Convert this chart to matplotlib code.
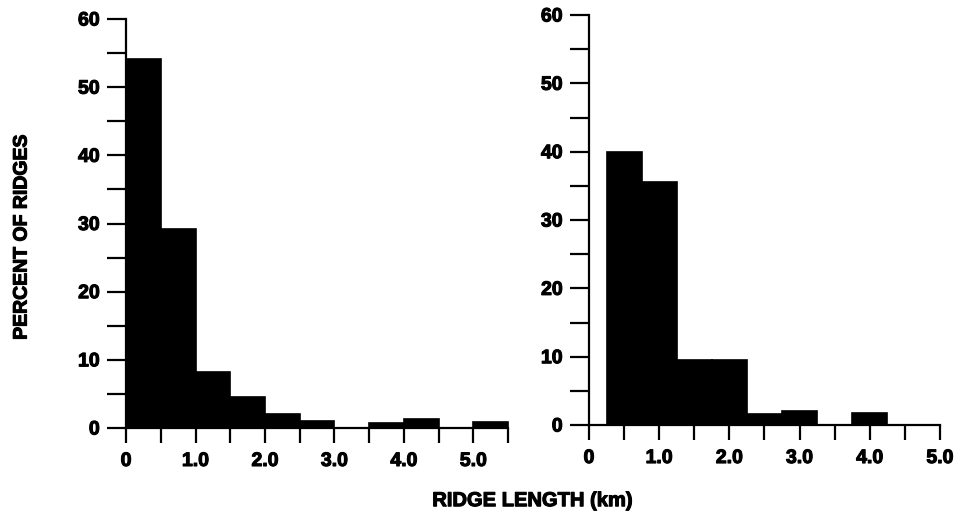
import numpy as np
import matplotlib.pyplot as plt
import matplotlib.patheffects as pe

plt.rcParams['font.family'] = ['Liberation Sans', 'DejaVu Sans']
plt.rcParams['font.weight'] = 'bold'

# left histogram: bins of 0.5 km starting at 0
left_edges = [0.0, 0.5, 1.0, 1.5, 2.0, 2.5, 3.0, 3.5, 4.0, 4.5, 5.0]
left_pct = [54.2, 29.2, 8.2, 4.5, 2.0, 1.0, 0.0, 0.7, 1.3, 0.0, 0.9]

# right histogram: bins of 0.5 km centred on the ticks
right_centers = [0.5, 1.0, 1.5, 2.0, 2.5, 3.0, 3.5, 4.0, 4.5]
right_pct = [40.0, 35.5, 9.5, 9.5, 1.6, 2.0, 0.0, 1.7, 0.0]

xlabels = ['0', '1.0', '2.0', '3.0', '4.0', '5.0']

# thicker print-like text
heavy = [pe.withStroke(linewidth=0.8, foreground='black')]

fig = plt.figure(figsize=(9.6, 5.27), dpi=100)
ax1 = fig.add_axes([0.1313, 0.1879, 0.398, 0.776])
ax2 = fig.add_axes([0.6135, 0.1935, 0.3656, 0.778])


def style(ax, xmax):
    ax.set_ylim(0, 60)
    ax.set_xlim(0, xmax)
    for s in ['top', 'right']:
        ax.spines[s].set_visible(False)
    for s in ['left', 'bottom']:
        ax.spines[s].set_linewidth(1.6)
    ax.spines['left'].set_bounds(0, 60)
    ax.spines['bottom'].set_bounds(0, xmax)
    ax.set_yticks(np.arange(0, 61, 10))
    ax.set_yticks(np.arange(5, 60, 10), minor=True)
    ax.set_xticks(np.arange(0, 5.1, 1.0))
    ax.set_xticklabels(xlabels)
    ax.set_xticks(np.arange(0.5, xmax + 0.01, 1.0), minor=True)
    ax.tick_params(axis='y', which='both', direction='out', length=14,
                   width=1.6, pad=5, labelsize=14)
    ax.tick_params(axis='x', which='both', direction='out', length=11,
                   width=1.6, pad=7, labelsize=14)
    for t in ax.get_xticklabels() + ax.get_yticklabels():
        t.set_path_effects(heavy)
    ax.set_facecolor('none')


ax1.bar(left_edges, left_pct, width=0.5, align='edge', color='black',
        edgecolor='black', linewidth=1.2, clip_on=False)
style(ax1, 5.5)

ax2.bar(right_centers, right_pct, width=0.5, align='center', color='black',
        edgecolor='black', linewidth=1.2, clip_on=False)
style(ax2, 5.0)

fig.text(0.023, 0.55, 'PERCENT OF RIDGES', rotation=90, ha='center',
         va='center', fontsize=14, fontweight='bold', path_effects=heavy)
fig.text(0.555, 0.05, 'RIDGE LENGTH (km)', ha='center', va='center',
         fontsize=14.5, fontweight='bold', path_effects=heavy)

fig.savefig('out.png', dpi=100, facecolor='white')
